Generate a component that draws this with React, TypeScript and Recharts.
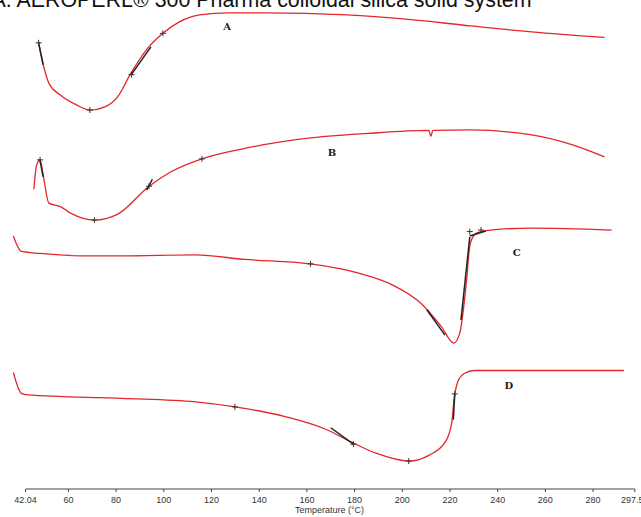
import React from 'react';
import { LineChart, Line, XAxis, YAxis, ReferenceLine, ReferenceDot } from 'recharts';

// DSC thermograms, temperature in °C, heat flow in arbitrary units (each trace shifted by its offset)
const TEMP_A = [47.5, 49.3, 51.8, 56.6, 63.5, 69.0, 75.6, 80.7, 86.2, 92.7, 99.6, 106.5, 115.0, 127.1, 142.5, 176.9, 202.7, 228.5, 254.2, 284.8];
const HEAT_A = [16.4, 12.3, 8.3, 5.9, 3.9, 2.9, 3.6, 5.6, 10.3, 15.0, 18.3, 20.6, 22.0, 22.4, 22.4, 22.0, 21.1, 19.8, 18.6, 17.5];

const TEMP_B = [45.5, 46.7, 48.1, 49.4, 51.8, 56.6, 60.9, 70.9, 80.7, 93.6, 103.0, 116.0, 134.0, 159.7, 185.5, 211.1, 212.0, 212.8, 228.5, 254.2, 271.4, 284.8];
const HEAT_B = [12.0, 16.9, 17.9, 14.9, 9.2, 8.5, 7.2, 5.8, 7.0, 12.5, 15.5, 18.1, 20.2, 22.2, 23.2, 23.8, 22.6, 23.8, 23.9, 22.9, 20.9, 18.5];

const TEMP_C = [36.9, 40.3, 48.1, 65.2, 82.4, 113.3, 134.0, 161.5, 182.1, 195.8, 207.8, 216.4, 221.6, 224.1, 226.7, 228.5, 231.1, 237.1, 254.2, 287.8];
const HEAT_C = [22.6, 19.5, 19.1, 18.6, 18.6, 18.8, 17.9, 17.0, 15.1, 12.8, 9.1, 4.4, 1.1, 3.1, 12.4, 21.1, 23.2, 23.8, 24.2, 23.8];

const TEMP_D = [36.9, 40.3, 42.9, 82.4, 113.3, 129.8, 151.2, 168.4, 178.7, 188.9, 202.7, 211.3, 218.1, 220.8, 221.6, 223.3, 226.0, 230.2, 254.2, 292.9];
const HEAT_D = [20.2, 16.0, 15.7, 15.0, 14.3, 13.3, 11.3, 8.7, 6.2, 4.0, 2.4, 3.6, 6.3, 10.3, 14.3, 18.4, 20.0, 20.6, 20.6, 20.6];

const OFFSETS = { A: 75, B: 50, C: 30, D: 5 };

const TICKS = [42.04, 60, 80, 100, 120, 140, 160, 180, 200, 220, 240, 260, 280, 297.5];
const X_DOMAIN = [35.5, 300.1];
const Y_MIN = 1.8;
const Y_MAX = 100;

// tangent lines drawn by the analysis software [t1, v1, t2, v2]
const TANGENTS = [
  [47.4, 91.6, 49.4, 87.0],
  [86.2, 84.9, 94.6, 90.6],
  [48.0, 68.0, 49.4, 64.5],
  [92.8, 61.8, 95.2, 64.0],
  [210.3, 37.8, 217.9, 32.7],
  [224.6, 35.7, 228.3, 52.4],
  [228.3, 52.6, 235.0, 53.6],
  [221.4, 15.7, 222.0, 20.9],
  [170.0, 14.1, 179.5, 10.8],
];

// small "+" markers on the traces [t, v]
const MARKERS = [
  [47.5, 91.4], [69.0, 77.9], [86.5, 85.0], [99.6, 93.3],
  [48.1, 67.9], [70.9, 55.8], [93.8, 62.6], [116.0, 68.1],
  [161.5, 47.0], [228.3, 53.5], [233.0, 53.8],
  [129.8, 18.3], [179.5, 10.8], [202.7, 7.4], [222.0, 20.9],
];

const LABELS = [
  { t: 126.5, v: 94.6, text: 'A' },
  { t: 170.5, v: 69.3, text: 'B' },
  { t: 248.0, v: 49.4, text: 'C' },
  { t: 244.7, v: 22.5, text: 'D' },
];

const build = (temps: number[], heat: number[], offset: number) =>
  temps.map((t, i) => ({ t, v: heat[i] + offset }));

const seriesA = build(TEMP_A, HEAT_A, OFFSETS.A);
const seriesB = build(TEMP_B, HEAT_B, OFFSETS.B);
const seriesC = build(TEMP_C, HEAT_C, OFFSETS.C);
const seriesD = build(TEMP_D, HEAT_D, OFFSETS.D);

const RED = '#e3262a';
const SANS = '"Liberation Sans", Arial, sans-serif';

const Plus = (props: any) => {
  const { cx, cy } = props;
  return (
    <g stroke="#333" strokeWidth={1}>
      <line x1={cx - 3} y1={cy} x2={cx + 3} y2={cy} />
      <line x1={cx} y1={cy - 3} x2={cx} y2={cy + 3} />
    </g>
  );
};

export default function App() {
  return (
    <div style={{ position: 'absolute', left: 0, top: 0, width: 641, height: 517, overflow: 'hidden', background: '#fff' }}>
      <div
        style={{
          position: 'absolute',
          left: -8.5,
          top: -12,
          fontFamily: SANS,
          fontSize: 21.4,
          lineHeight: '24px',
          color: '#111',
          whiteSpace: 'nowrap',
        }}
      >
        A. AEROPERL® 300 Pharma colloidal silica solid system
      </div>
      <LineChart width={641} height={517} margin={{ top: 0, right: 0, left: 10, bottom: 0 }}>
        <XAxis
          dataKey="t"
          type="number"
          domain={X_DOMAIN}
          allowDataOverflow
          ticks={TICKS}
          interval={0}
          height={28}
          axisLine={false}
          tickSize={3}
          tickMargin={5}
          tickLine={{ stroke: '#444' }}
          tick={{ fill: '#333', fontSize: 9, fontFamily: SANS }}
          tickFormatter={(v: number) => (v === 297.5 ? '297.50' : String(v))}
          label={{
            value: 'Temperature (°C)',
            position: 'insideBottom',
            offset: 4,
            dx: 4,
            fill: '#333',
            fontSize: 9,
            fontFamily: SANS,
          }}
        />
        <YAxis hide type="number" domain={[Y_MIN, Y_MAX]} allowDataOverflow />
        <ReferenceLine
          segment={[{ x: 42.04, y: Y_MIN }, { x: 297.5, y: Y_MIN }]}
          stroke="#444"
          strokeWidth={1}
        />
        <Line data={seriesA} dataKey="v" type="monotone" stroke={RED} strokeWidth={1.3} dot={false} isAnimationActive={false} />
        <Line data={seriesB} dataKey="v" type="monotone" stroke={RED} strokeWidth={1.3} dot={false} isAnimationActive={false} />
        <Line data={seriesC} dataKey="v" type="monotone" stroke={RED} strokeWidth={1.3} dot={false} isAnimationActive={false} />
        <Line data={seriesD} dataKey="v" type="monotone" stroke={RED} strokeWidth={1.3} dot={false} isAnimationActive={false} />
        {TANGENTS.map((s, i) => (
          <ReferenceLine
            key={`tan-${i}`}
            segment={[{ x: s[0], y: s[1] }, { x: s[2], y: s[3] }]}
            stroke="#222"
            strokeWidth={1.5}
          />
        ))}
        {MARKERS.map((m, i) => (
          <ReferenceDot key={`mk-${i}`} x={m[0]} y={m[1]} r={3} shape={Plus} />
        ))}
        {LABELS.map((l) => (
          <ReferenceDot
            key={l.text}
            x={l.t}
            y={l.v}
            r={0}
            fill="none"
            stroke="none"
            label={{
              value: l.text,
              position: 'center',
              fill: '#222',
              fontSize: 10,
              fontWeight: 'bold',
              fontFamily: '"DejaVu Serif", "Liberation Serif", serif',
            }}
          />
        ))}
      </LineChart>
    </div>
  );
}
